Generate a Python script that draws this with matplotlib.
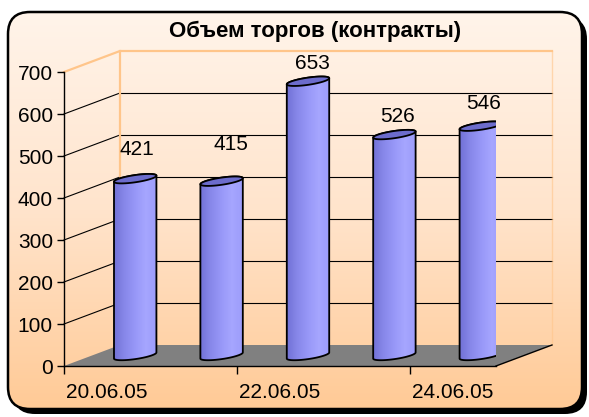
import numpy as np
import matplotlib
matplotlib.use("Agg")
import matplotlib.pyplot as plt
from matplotlib.patches import FancyBboxPatch, Polygon
from matplotlib.colors import LinearSegmentedColormap

# ---------------------------------------------------------------------
# Data
# ---------------------------------------------------------------------
dates = ["20.06.05", "21.06.05", "22.06.05", "23.06.05", "24.06.05"]
volumes = [421, 415, 653, 526, 546]
y_ticks = [0, 100, 200, 300, 400, 500, 600, 700]
title = "Объем торгов (контракты)"

# Excel puts the value labels a bit irregularly above the cylinders (px)
label_nudge = [(2, 29), (9, 37), (4, 18), (3, 18), (3, 23)]

# ---------------------------------------------------------------------
# Figure + rounded frame with gradient and shadow
# ---------------------------------------------------------------------
W, H = 589, 417
plt.rcParams['font.family'] = ['Liberation Sans', 'DejaVu Sans']
fig = plt.figure(figsize=(W / 100, H / 100), dpi=100)

bg = fig.add_axes([0, 0, 1, 1])
bg.set_xlim(0, W)
bg.set_ylim(H, 0)
bg.axis('off')

x0, y0, x1, y1 = 8, 12, 582, 409
shadow = FancyBboxPatch((x0 + 5, y0 + 5), x1 - x0, y1 - y0,
                        boxstyle="round,pad=0,rounding_size=22",
                        facecolor='black', edgecolor='none')
bg.add_patch(shadow)
frame = FancyBboxPatch((x0, y0), x1 - x0, y1 - y0,
                       boxstyle="round,pad=0,rounding_size=22",
                       facecolor='none', edgecolor='black', linewidth=1.8, zorder=3)
bg.add_patch(frame)
bg_cmap = LinearSegmentedColormap.from_list('bg', ['#FFF4EA', '#FFE4CC', '#FFCA96'])
grad = bg.imshow(np.linspace(0, 1, 256).reshape(-1, 1), cmap=bg_cmap,
                 extent=(x0, x1, y1, y0), aspect='auto', zorder=1)
grad.set_clip_path(frame)
bg.set_xlim(0, W)
bg.set_ylim(H, 0)

fig.text(315 / W, 1 - 31 / H, title, ha='center', va='center',
         fontsize=16, fontweight='bold')

# ---------------------------------------------------------------------
# Main axes = front plane of the 3D box
# ---------------------------------------------------------------------
ax = fig.add_axes([64 / W, 1 - 366 / H, 432 / W, 294 / H])
ax.patch.set_alpha(0)
n = len(volumes)
ymax = y_ticks[-1]

PX = 432 / n        # px per category
PY = 294 / ymax     # px per value unit
DX = 56 / PX        # depth offset in data units
DY = 21 / PY

wall = '#FFC58A'

# back wall + side wall gridlines
for yt in y_ticks[1:-1]:
    ax.plot([DX, n + DX], [yt + DY, yt + DY], color='black', lw=0.8, zorder=1, clip_on=False)
    ax.plot([0, DX], [yt, yt + DY], color='black', lw=0.8, zorder=1, clip_on=False)

# wall edges
ax.plot([0, DX, n + DX], [ymax, ymax + DY, ymax + DY], color=wall, lw=1.6, zorder=1, clip_on=False)
ax.plot([DX, DX], [DY, ymax + DY], color=wall, lw=1.6, zorder=1, clip_on=False)
ax.plot([n + DX, n + DX], [DY, ymax + DY], color=wall, lw=1.0, alpha=0.6, zorder=1, clip_on=False)

# floor
floor = Polygon([(0, 0), (n, 0), (n + DX, DY), (DX, DY)], closed=True,
                facecolor='#808080', edgecolor='none', zorder=2, clip_on=False)
ax.add_patch(floor)
ax.plot([n, n + DX], [0, DY], color='black', lw=1.0, zorder=2, clip_on=False)

# cylinders
body_cmap = LinearSegmentedColormap.from_list(
    'body', ['#7272D6', '#8888EA', '#9898F8', '#A6A6FF', '#9C9CFA'])
Ax, Ay = 21 / PX, 2.5 / PY
Bx, By = 3 / PX, 4 / PY
t0 = np.arctan2(Bx, Ax)


def ellipse(cx, cy, t):
    return np.column_stack([cx + np.cos(t) * Ax + np.sin(t) * Bx,
                            cy + np.cos(t) * Ay + np.sin(t) * By])


for i, v in enumerate(volumes):
    cx = i + 0.5 + DX / 2
    base = DY / 2
    top = v + DY / 2

    bottom_front = ellipse(cx, base, np.linspace(t0 + np.pi, t0 + 2 * np.pi, 60))
    top_back = ellipse(cx, top, np.linspace(t0, t0 + np.pi, 60))
    body = Polygon(np.vstack([bottom_front, top_back]), closed=True,
                   facecolor='none', edgecolor='black', linewidth=1.3, zorder=4)
    ax.add_patch(body)
    half = np.hypot(Ax, Bx)
    im = ax.imshow(np.linspace(0, 1, 128).reshape(1, -1), cmap=body_cmap,
                   extent=(cx - half, cx + half, base - 20, top + 20),
                   aspect='auto', zorder=3)
    im.set_clip_path(body)

    cap = Polygon(ellipse(cx, top, np.linspace(0, 2 * np.pi, 80)), closed=True,
                  facecolor='#6C6CCC', edgecolor='black', linewidth=1.3, zorder=5)
    ax.add_patch(cap)

    ax.annotate(str(v), (cx, top), xytext=label_nudge[i], textcoords='offset pixels',
                ha='center', va='center', fontsize=15, zorder=6, annotation_clip=False)

# axes, ticks and labels
ax.set_xlim(0, n)
ax.set_ylim(0, ymax)
for side in ['top', 'right']:
    ax.spines[side].set_visible(False)
ax.spines['left'].set_linewidth(1.0)
ax.spines['bottom'].set_linewidth(1.0)
ax.spines['left'].set_zorder(6)
ax.spines['bottom'].set_zorder(6)

ax.set_yticks(y_ticks)
ax.set_yticklabels([str(t) for t in y_ticks])
ax.tick_params(axis='y', length=5, width=1, labelsize=15, pad=3)

ax.set_xticks([0, 2, 4])
ax.set_xticklabels([])
ax.set_xticks([0.5, 2.5, 4.5], minor=True)
ax.set_xticklabels(dates[::2], minor=True)
ax.tick_params(axis='x', which='major', length=6, width=1)
ax.tick_params(axis='x', which='minor', length=0, labelsize=15, pad=12)

fig.savefig('out.png', dpi=100)
